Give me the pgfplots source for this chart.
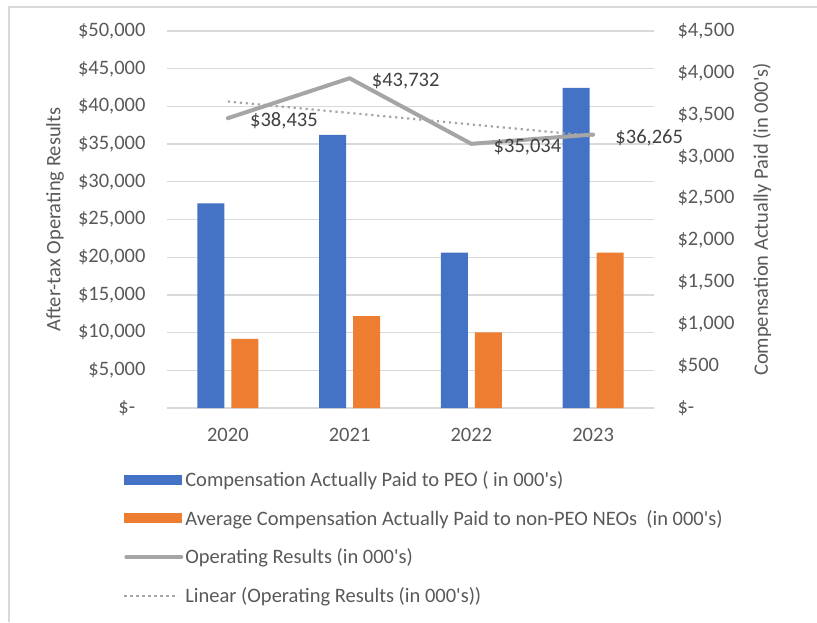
\documentclass[border=0pt]{standalone}
\usepackage{pgfplots}
\pgfplotsset{compat=1.18}
\usepackage{fontspec}
\setmainfont{Carlito}
\definecolor{cblue}{HTML}{4472C4}
\definecolor{corange}{HTML}{ED7D31}
\definecolor{cgray}{HTML}{A5A5A5}
\definecolor{ctext}{HTML}{595959}
\definecolor{clabel}{HTML}{404040}
\definecolor{cgrid}{HTML}{D9D9D9}
\newcommand{\cf}{\fontsize{20.5}{24}\selectfont}
\newcommand{\q}{\textquotesingle}
\begin{document}
\begin{tikzpicture}[x=1pt,y=1pt]
\useasboundingbox (0,0) rectangle (817,622);
\draw[cgrid, line width=1.5pt] (9,0) -- (9,615) -- (817,615);
\pgfplotsset{base/.style={
  scale only axis, width=487pt, height=377pt,
  at={(167pt,214pt)}, anchor=south west,
  xmin=-0.5, xmax=3.5,
  font=\cf,
  ticklabel style={font=\cf, text=ctext},
  label style={font=\cf, text=ctext},
  major tick length=0pt, minor tick num=0,
  axis line style={draw=none},
  scaled y ticks=false,
}}
% axis 0: grid, left ticks, x ticks
\begin{axis}[base, ymin=0, ymax=50000,
  ytick={0,5000,10000,15000,20000,25000,30000,35000,40000,45000,50000},
  yticklabels={{\$-\hphantom{0}},{\$5,000},{\$10,000},{\$15,000},{\$20,000},{\$25,000},{\$30,000},{\$35,000},{\$40,000},{\$45,000},{\$50,000}},
  yticklabel style={xshift=-18pt},
  ymajorgrids, grid style={cgrid, line width=1.3pt},
  xtick={0,1,2,3}, xticklabels={2020,2021,2022,2023},
  xticklabel style={yshift=-17pt},
  ylabel={After-tax Operating Results},
  ylabel style={at={(axis description cs:-0.23,0.5)}, anchor=center},
]
\end{axis}
% axis 1: bars, right scale
\begin{axis}[base, ymin=0, ymax=4500,
  ybar=7pt, bar width=27pt,
  xtick=\empty,
  ytick={0,500,1000,1500,2000,2500,3000,3500,4000,4500},
  yticklabels={{\$-},{\$500},{\$1,000},{\$1,500},{\$2,000},{\$2,500},{\$3,000},{\$3,500},{\$4,000},{\$4,500}},
  yticklabel pos=right,
  yticklabel style={xshift=20pt},
  ylabel={Compensation Actually Paid (in 000\q s)},
  ylabel style={at={(axis description cs:1.2218,0.5)}, anchor=center},
  legend style={at={(-0.0903,-0.162)}, anchor=north west, draw=none, fill=none,
    font=\cf, text=ctext, row sep=18.3pt, inner sep=0pt},
  legend cell align=left,
]
\addplot[fill=cblue, draw=none, legend image code/.code={\fill[cblue] (0pt,-5pt) rectangle (58pt,5pt);}]
  coordinates {(0,2444) (1,3259) (2,1854) (3,3821)};
\addlegendentry{Compensation Actually Paid to PEO ( in 000\q s)}
\addplot[fill=corange, draw=none, legend image code/.code={\fill[corange] (0pt,-5pt) rectangle (58pt,5pt);}]
  coordinates {(0,824) (1,1098) (2,904) (3,1854)};
\addlegendentry{Average Compensation Actually Paid to non-PEO NEOs\ \ (in 000\q s)}
\addlegendimage{legend image code/.code={\draw[cgray, line width=4pt, line cap=round] (2pt,0pt) -- (57pt,0pt);}}
\addlegendentry{Operating Results (in 000\q s)}
\addlegendimage{legend image code/.code={\draw[cgray, line width=2.2pt, dash pattern=on 2.2pt off 3.8pt] (0pt,0pt) -- (54pt,0pt);}}
\addlegendentry{Linear (Operating Results (in 000\q s))}
\end{axis}
% axis 2: line, left scale
\begin{axis}[base, ymin=0, ymax=50000, hide axis, clip=false]
\addplot[cgray, line width=2.2pt, dash pattern=on 2.2pt off 3.8pt] coordinates {(0,40648) (3,36085)};
\addplot[cgray, line width=4pt, line cap=round, line join=round,
  point meta=explicit symbolic, nodes near coords,
  every node near coord/.style={anchor=west, xshift=17pt, yshift=-3pt, font=\cf, text=clabel}]
  coordinates {(0,38435) [\$38,435] (1,43732) [\$43,732] (2,35034) [\$35,034] (3,36265) [\$36,265]};
\end{axis}
\end{tikzpicture}
\end{document}
